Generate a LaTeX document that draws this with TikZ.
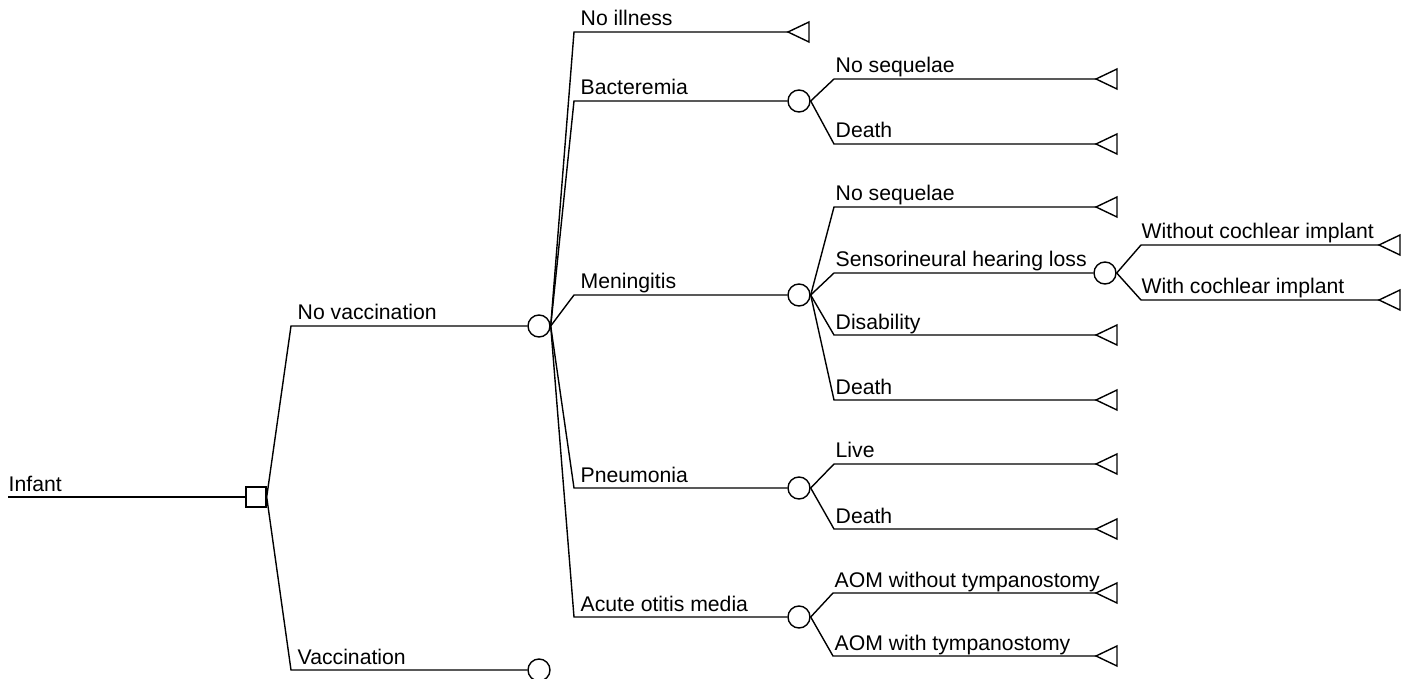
\documentclass[tikz,border=0pt]{standalone}
\usepackage{fontspec}
\setmainfont{Liberation Sans}
\begin{document}
\begin{tikzpicture}[x=0.5pt,y=-0.5pt,line width=0.7pt,
  decision/.style={draw,rectangle,minimum size=10pt,inner sep=0pt,line width=0.7pt},
  chance/.style={draw,circle,minimum size=11pt,inner sep=0pt,line width=0.7pt},
  lbl/.style={anchor=base west,inner sep=0pt,font=\fontsize{10.6pt}{12pt}\selectfont},
  edge/.style={line width=0.7pt},
  term/.style={line width=0.7pt,line join=miter}]
\useasboundingbox (0,0) rectangle (1409,679);
\tikzset{tri/.pic={\draw[term] (0,0) -- (21,-10) -- (21,10) -- cycle;}}

% root
\coordinate (s) at (8,497);
\node[decision] (dec) at (256,497) {};
\node[lbl] (linf) at (8,491) {Infant};
\draw[edge] (s) -- (dec.west);

% level 1
\coordinate (knv) at (291,326);
\coordinate (kv) at (291,670);
\node[chance] (c1) at (539,326) {};
\node[chance] (c2) at (539,670) {};
\draw[edge] (dec.east) -- (knv) -- (c1.west);
\draw[edge] (dec.east) -- (kv) -- (c2.west);
\node[lbl] (lnv) at (297,320) {No vaccination};
\node[lbl] (lv) at (297,664) {Vaccination};

% level 2
\coordinate (kni) at (574,32);
\coordinate (kba) at (574,101);
\coordinate (kme) at (574,295);
\coordinate (kpn) at (574,488);
\coordinate (kao) at (574,617);
\coordinate (tni) at (788,32);
\node[chance] (cb) at (799,101) {};
\node[chance] (cm) at (799,295) {};
\node[chance] (cp) at (799,488) {};
\node[chance] (ca) at (799,617) {};
\draw[edge] (c1.east) -- (kni) -- (tni);
\draw[edge] (c1.east) -- (kba) -- (cb.west);
\draw[edge] (c1.east) -- (kme) -- (cm.west);
\draw[edge] (c1.east) -- (kpn) -- (cp.west);
\draw[edge] (c1.east) -- (kao) -- (ca.west);
\pic at (tni) {tri};
\node[lbl] (lni) at (580,26) {No illness};
\node[lbl] (lba) at (580,95) {Bacteremia};
\node[lbl] (lme) at (580,289) {Meningitis};
\node[lbl] (lpn) at (580,482) {Pneumonia};
\node[lbl] (lao) at (580,611) {Acute otitis media};

% bacteremia
\coordinate (kb1) at (834,79);
\coordinate (kb2) at (834,144);
\coordinate (tb1) at (1096,79);
\coordinate (tb2) at (1096,144);
\draw[edge] (cb.east) -- (kb1) -- (tb1);
\draw[edge] (cb.east) -- (kb2) -- (tb2);
\pic at (tb1) {tri};
\pic at (tb2) {tri};
\node[lbl] (lb1) at (835,73) {No sequelae};
\node[lbl] (lb2) at (835,138) {Death};

% meningitis
\coordinate (km1) at (834,207);
\coordinate (km2) at (834,273);
\coordinate (km3) at (834,335);
\coordinate (km4) at (834,400);
\coordinate (tm1) at (1096,207);
\node[chance] (cs) at (1105,273) {};
\coordinate (tm3) at (1096,335);
\coordinate (tm4) at (1096,400);
\draw[edge] (cm.east) -- (km1) -- (tm1);
\draw[edge] (cm.east) -- (km2) -- (cs.west);
\draw[edge] (cm.east) -- (km3) -- (tm3);
\draw[edge] (cm.east) -- (km4) -- (tm4);
\pic at (tm1) {tri};
\pic at (tm3) {tri};
\pic at (tm4) {tri};
\node[lbl] (lm1) at (835,201) {No sequelae};
\node[lbl] (lm2) at (835,267) {Sensorineural hearing loss};
\node[lbl] (lm3) at (835,329) {Disability};
\node[lbl] (lm4) at (835,394) {Death};

% sensorineural
\coordinate (ks1) at (1141,245);
\coordinate (ks2) at (1141,300);
\coordinate (ts1) at (1379,245);
\coordinate (ts2) at (1379,300);
\draw[edge] (cs.east) -- (ks1) -- (ts1);
\draw[edge] (cs.east) -- (ks2) -- (ts2);
\pic at (ts1) {tri};
\pic at (ts2) {tri};
\node[lbl] (ls1) at (1141,239) {Without cochlear implant};
\node[lbl] (ls2) at (1141,294) {With cochlear implant};

% pneumonia
\coordinate (kp1) at (834,464);
\coordinate (kp2) at (834,529);
\coordinate (tp1) at (1096,464);
\coordinate (tp2) at (1096,529);
\draw[edge] (cp.east) -- (kp1) -- (tp1);
\draw[edge] (cp.east) -- (kp2) -- (tp2);
\pic at (tp1) {tri};
\pic at (tp2) {tri};
\node[lbl] (lp1) at (835,458) {Live};
\node[lbl] (lp2) at (835,523) {Death};

% AOM
\coordinate (ka1) at (833,593);
\coordinate (ka2) at (833,656);
\coordinate (ta1) at (1096,593);
\coordinate (ta2) at (1096,656);
\draw[edge] (ca.east) -- (ka1) -- (ta1);
\draw[edge] (ca.east) -- (ka2) -- (ta2);
\pic at (ta1) {tri};
\pic at (ta2) {tri};
\node[lbl] (la1) at (834,587) {AOM without tympanostomy};
\node[lbl] (la2) at (834,650) {AOM with tympanostomy};
\end{tikzpicture}
\end{document}
